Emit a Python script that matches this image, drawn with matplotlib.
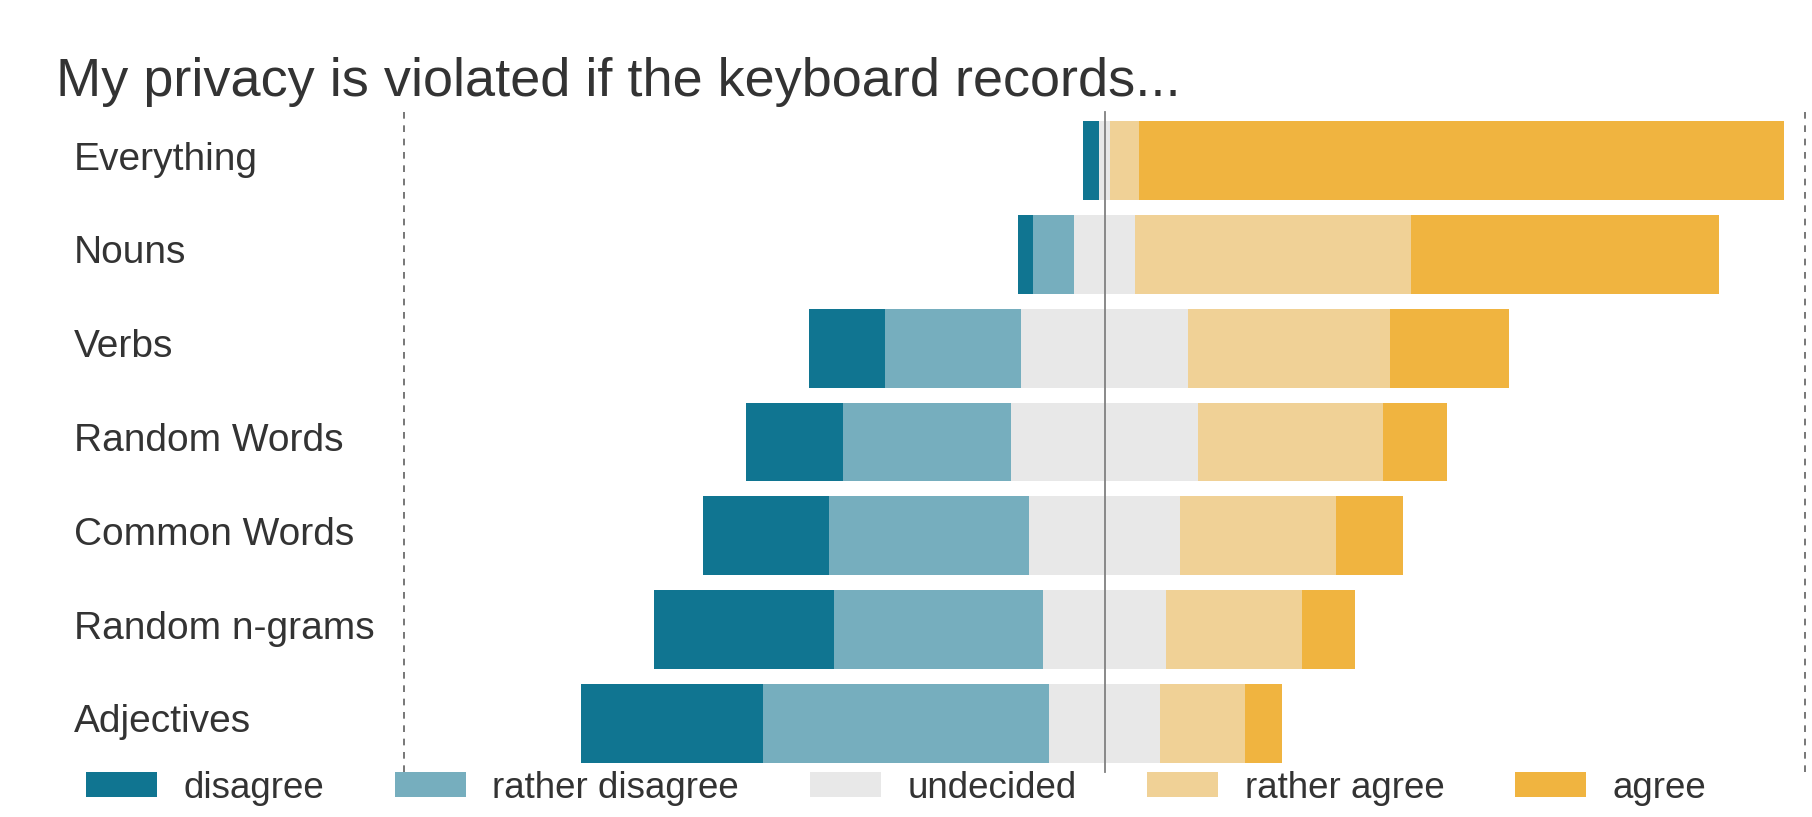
import matplotlib
matplotlib.use('Agg')
import matplotlib.pyplot as plt
import matplotlib.transforms as mtransforms
import numpy as np

plt.rcParams['font.family'] = ['Liberation Sans', 'DejaVu Sans']

# survey answers in percent, rows from top to bottom
categories = ['Everything', 'Nouns', 'Verbs', 'Random Words',
              'Common Words', 'Random n-grams', 'Adjectives']
disagree = [2.2, 2.1, 10.8, 13.8, 17.9, 25.8, 26.0]
rather_disagree = [0.0, 5.9, 19.5, 24.1, 28.6, 29.8, 40.8]
undecided = [1.7, 8.7, 23.8, 26.6, 21.6, 17.5, 15.8]
rather_agree = [4.1, 39.4, 28.9, 26.4, 22.2, 19.5, 12.1]
agree = [92.0, 44.0, 17.0, 9.2, 9.6, 7.5, 5.3]

answers = ['disagree', 'rather disagree', 'undecided', 'rather agree', 'agree']

COLORS = {
    'disagree': '#107591',
    'rather disagree': '#76aebe',
    'undecided': '#e8e8e8',
    'rather agree': '#f0d196',
    'agree': '#f0b440',
    'text': '#333333',
}

fig = plt.figure(figsize=(18.12, 8.17), dpi=100)
ax = fig.add_axes([0.2230, 0.0551, 0.9961 - 0.2230, 0.8629 - 0.0551])

y = np.arange(len(categories))
values = [disagree, rather_disagree, undecided, rather_agree, agree]
values = [np.array(v) for v in values]

# left edge of each bar: everything negative plus half the undecided share
left = -(values[0] + values[1] + values[2] / 2)
for name, vals in zip(answers, values):
    ax.barh(y, vals, left=left, height=0.84, color=COLORS[name],
            edgecolor='none', label=name)
    left = left + vals

ax.set_xlim(-100, 100)
ax.set_ylim(len(categories) - 1 + 0.517, -0.517)

# reference lines
ax.axvline(0, color='#808080', lw=1.3, zorder=5, clip_on=False)
for xv in (-100, 100):
    ax.axvline(xv, color='#606060', lw=1.2, ls=(0, (4, 4)), clip_on=False)

ax.set_xticks([])
ax.set_yticks(y)
ax.set_yticklabels(categories, fontsize=28, color=COLORS['text'], ha='left',
                   va='center_baseline')
ax.tick_params(axis='y', length=0, pad=238)
# labels sit a little above the bar centres
shift = mtransforms.ScaledTranslation(0, 0.05, fig.dpi_scale_trans)
for lab in ax.get_yticklabels():
    lab.set_transform(lab.get_transform() + shift)
for s in ax.spines.values():
    s.set_visible(False)

fig.text(0.031, 1 - 96 / 817, 'My privacy is violated if the keyboard records...',
         fontsize=39, color=COLORS['text'], ha='left', va='baseline')

leg = fig.legend(loc='center left', bbox_to_anchor=(86 / 1812, 1 - 788 / 817),
                 ncol=5, frameon=False, fontsize=26.5, borderpad=0,
                 borderaxespad=0, handlelength=1.93, handleheight=0.65,
                 handletextpad=0.72, columnspacing=1.92)
for t in leg.get_texts():
    t.set_color(COLORS['text'])

fig.savefig('out.png', dpi=100)
